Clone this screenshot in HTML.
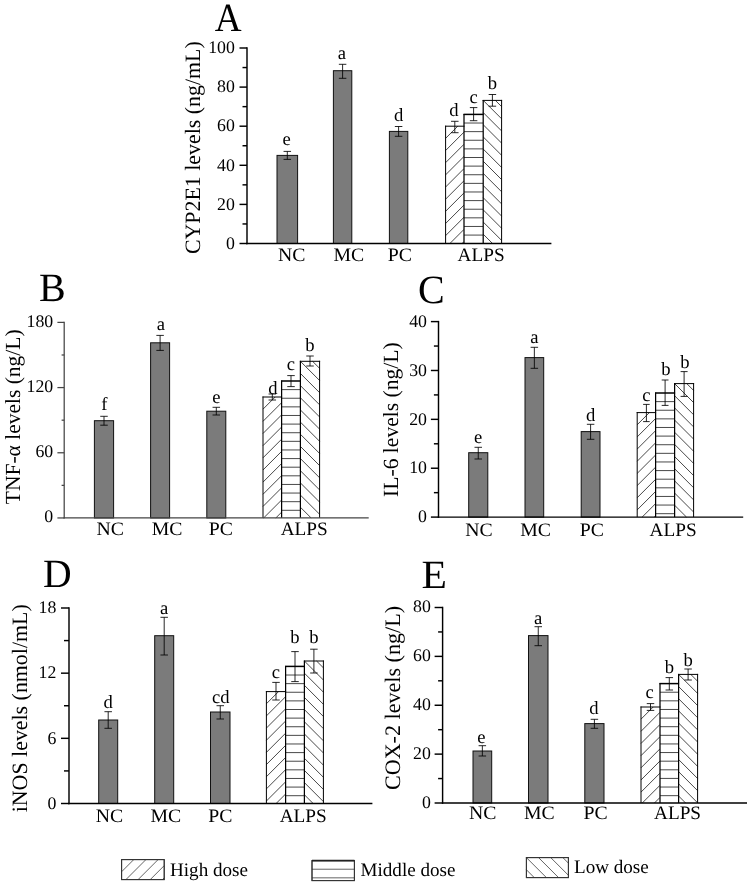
<!DOCTYPE html>
<html lang="en">
<head>
<meta charset="utf-8">
<title>Figure</title>
<style>
html,body{margin:0;padding:0;background:#fff;}
body{width:750px;height:884px;overflow:hidden;font-family:"Liberation Serif",serif;}
svg{display:block;will-change:transform;filter:grayscale(1);}
</style>
</head>
<body>
<svg width="750" height="884" viewBox="0 0 750 884" font-family='"Liberation Serif", serif' fill="#000" shape-rendering="geometricPrecision" text-rendering="geometricPrecision">
<rect x="0" y="0" width="750" height="884" fill="#fff" stroke="none"/>
<g>
<rect x="277" y="155.4" width="20.6" height="88.1" fill="#7b7b7b" stroke="#111" stroke-width="1.0"/>
<rect x="333.4" y="70.7" width="18.4" height="172.8" fill="#7b7b7b" stroke="#111" stroke-width="1.0"/>
<rect x="389.4" y="131.4" width="18.4" height="112.1" fill="#7b7b7b" stroke="#111" stroke-width="1.0"/>
<rect x="445.6" y="126.2" width="18.4" height="117.3" fill="#fff" stroke="none"/>
<line x1="445.6" y1="138.36" x2="457.76" y2="126.2" stroke="#000" stroke-width="0.72"/>
<line x1="445.6" y1="150.52" x2="464" y2="132.12" stroke="#000" stroke-width="0.72"/>
<line x1="445.6" y1="162.68" x2="464" y2="144.28" stroke="#000" stroke-width="0.72"/>
<line x1="445.6" y1="174.84" x2="464" y2="156.44" stroke="#000" stroke-width="0.72"/>
<line x1="445.6" y1="187" x2="464" y2="168.6" stroke="#000" stroke-width="0.72"/>
<line x1="445.6" y1="199.16" x2="464" y2="180.76" stroke="#000" stroke-width="0.72"/>
<line x1="445.6" y1="211.32" x2="464" y2="192.92" stroke="#000" stroke-width="0.72"/>
<line x1="445.6" y1="223.48" x2="464" y2="205.08" stroke="#000" stroke-width="0.72"/>
<line x1="445.6" y1="235.64" x2="464" y2="217.24" stroke="#000" stroke-width="0.72"/>
<line x1="449.9" y1="243.5" x2="464" y2="229.4" stroke="#000" stroke-width="0.72"/>
<line x1="462.06" y1="243.5" x2="464" y2="241.56" stroke="#000" stroke-width="0.72"/>
<rect x="464" y="114.4" width="19.2" height="129.1" fill="#fff" stroke="none"/>
<line x1="464" y1="123.02" x2="483.2" y2="123.02" stroke="#000" stroke-width="0.72"/>
<line x1="464" y1="131.64" x2="483.2" y2="131.64" stroke="#000" stroke-width="0.72"/>
<line x1="464" y1="140.26" x2="483.2" y2="140.26" stroke="#000" stroke-width="0.72"/>
<line x1="464" y1="148.88" x2="483.2" y2="148.88" stroke="#000" stroke-width="0.72"/>
<line x1="464" y1="157.5" x2="483.2" y2="157.5" stroke="#000" stroke-width="0.72"/>
<line x1="464" y1="166.12" x2="483.2" y2="166.12" stroke="#000" stroke-width="0.72"/>
<line x1="464" y1="174.74" x2="483.2" y2="174.74" stroke="#000" stroke-width="0.72"/>
<line x1="464" y1="183.36" x2="483.2" y2="183.36" stroke="#000" stroke-width="0.72"/>
<line x1="464" y1="191.98" x2="483.2" y2="191.98" stroke="#000" stroke-width="0.72"/>
<line x1="464" y1="200.6" x2="483.2" y2="200.6" stroke="#000" stroke-width="0.72"/>
<line x1="464" y1="209.22" x2="483.2" y2="209.22" stroke="#000" stroke-width="0.72"/>
<line x1="464" y1="217.84" x2="483.2" y2="217.84" stroke="#000" stroke-width="0.72"/>
<line x1="464" y1="226.46" x2="483.2" y2="226.46" stroke="#000" stroke-width="0.72"/>
<line x1="464" y1="235.08" x2="483.2" y2="235.08" stroke="#000" stroke-width="0.72"/>
<rect x="483.2" y="100.4" width="18.4" height="143.1" fill="#fff" stroke="none"/>
<line x1="495.36" y1="100.4" x2="501.6" y2="106.64" stroke="#000" stroke-width="0.72"/>
<line x1="483.2" y1="100.4" x2="501.6" y2="118.8" stroke="#000" stroke-width="0.72"/>
<line x1="483.2" y1="112.56" x2="501.6" y2="130.96" stroke="#000" stroke-width="0.72"/>
<line x1="483.2" y1="124.72" x2="501.6" y2="143.12" stroke="#000" stroke-width="0.72"/>
<line x1="483.2" y1="136.88" x2="501.6" y2="155.28" stroke="#000" stroke-width="0.72"/>
<line x1="483.2" y1="149.04" x2="501.6" y2="167.44" stroke="#000" stroke-width="0.72"/>
<line x1="483.2" y1="161.2" x2="501.6" y2="179.6" stroke="#000" stroke-width="0.72"/>
<line x1="483.2" y1="173.36" x2="501.6" y2="191.76" stroke="#000" stroke-width="0.72"/>
<line x1="483.2" y1="185.52" x2="501.6" y2="203.92" stroke="#000" stroke-width="0.72"/>
<line x1="483.2" y1="197.68" x2="501.6" y2="216.08" stroke="#000" stroke-width="0.72"/>
<line x1="483.2" y1="209.84" x2="501.6" y2="228.24" stroke="#000" stroke-width="0.72"/>
<line x1="483.2" y1="222" x2="501.6" y2="240.4" stroke="#000" stroke-width="0.72"/>
<line x1="483.2" y1="234.16" x2="492.54" y2="243.5" stroke="#000" stroke-width="0.72"/>
<line x1="445.6" y1="125.7" x2="445.6" y2="243.5" stroke="#000" stroke-width="1.0"/>
<line x1="445.1" y1="126.2" x2="464.5" y2="126.2" stroke="#000" stroke-width="1.0"/>
<line x1="464" y1="113.9" x2="464" y2="243.5" stroke="#000" stroke-width="1.25"/>
<line x1="463.5" y1="114.4" x2="483.7" y2="114.4" stroke="#000" stroke-width="1.5"/>
<line x1="483.2" y1="99.9" x2="483.2" y2="243.5" stroke="#000" stroke-width="1.25"/>
<line x1="482.7" y1="100.4" x2="502.1" y2="100.4" stroke="#000" stroke-width="1.0"/>
<line x1="501.6" y1="99.9" x2="501.6" y2="243.5" stroke="#000" stroke-width="1.0"/>
<line x1="287.3" y1="151.4" x2="287.3" y2="159.4" stroke="#000" stroke-width="0.85"/>
<line x1="283.55" y1="151.4" x2="291.05" y2="151.4" stroke="#000" stroke-width="0.85"/>
<line x1="283.55" y1="159.4" x2="291.05" y2="159.4" stroke="#000" stroke-width="0.85"/>
<text x="286.6" y="144.6" font-size="18.6" text-anchor="middle">e</text>
<line x1="342.6" y1="64.3" x2="342.6" y2="78.3" stroke="#000" stroke-width="0.85"/>
<line x1="338.85" y1="64.3" x2="346.35" y2="64.3" stroke="#000" stroke-width="0.85"/>
<line x1="338.85" y1="78.3" x2="346.35" y2="78.3" stroke="#000" stroke-width="0.85"/>
<text x="341.8" y="58.6" font-size="18.6" text-anchor="middle">a</text>
<line x1="398.6" y1="126.5" x2="398.6" y2="136.3" stroke="#000" stroke-width="0.85"/>
<line x1="394.85" y1="126.5" x2="402.35" y2="126.5" stroke="#000" stroke-width="0.85"/>
<line x1="394.85" y1="136.3" x2="402.35" y2="136.3" stroke="#000" stroke-width="0.85"/>
<text x="398.6" y="120.5" font-size="18.6" text-anchor="middle">d</text>
<line x1="454.8" y1="121.3" x2="454.8" y2="132.7" stroke="#000" stroke-width="0.85"/>
<line x1="451.05" y1="121.3" x2="458.55" y2="121.3" stroke="#000" stroke-width="0.85"/>
<line x1="451.05" y1="132.7" x2="458.55" y2="132.7" stroke="#000" stroke-width="0.85"/>
<text x="454" y="116" font-size="18.6" text-anchor="middle">d</text>
<line x1="473.6" y1="107.6" x2="473.6" y2="120.7" stroke="#000" stroke-width="0.85"/>
<line x1="469.85" y1="107.6" x2="477.35" y2="107.6" stroke="#000" stroke-width="0.85"/>
<line x1="469.85" y1="120.7" x2="477.35" y2="120.7" stroke="#000" stroke-width="0.85"/>
<text x="473.6" y="103" font-size="18.6" text-anchor="middle">c</text>
<line x1="492.4" y1="94.5" x2="492.4" y2="106.2" stroke="#000" stroke-width="0.85"/>
<line x1="488.65" y1="94.5" x2="496.15" y2="94.5" stroke="#000" stroke-width="0.85"/>
<line x1="488.65" y1="106.2" x2="496.15" y2="106.2" stroke="#000" stroke-width="0.85"/>
<text x="492.4" y="89" font-size="18.6" text-anchor="middle">b</text>
<line x1="247" y1="47.27" x2="247" y2="244.22" stroke="#000" stroke-width="1.45"/>
<line x1="246.28" y1="243.5" x2="551.4" y2="243.5" stroke="#000" stroke-width="1.45"/>
<line x1="239.5" y1="243.5" x2="247" y2="243.5" stroke="#000" stroke-width="1.45"/>
<text x="234.9" y="248.7" font-size="17.8" text-anchor="end">0</text>
<line x1="239.5" y1="204.4" x2="247" y2="204.4" stroke="#000" stroke-width="1.45"/>
<text x="234.9" y="209.6" font-size="17.8" text-anchor="end">20</text>
<line x1="239.5" y1="165.3" x2="247" y2="165.3" stroke="#000" stroke-width="1.45"/>
<text x="234.9" y="170.5" font-size="17.8" text-anchor="end">40</text>
<line x1="239.5" y1="126.2" x2="247" y2="126.2" stroke="#000" stroke-width="1.45"/>
<text x="234.9" y="131.4" font-size="17.8" text-anchor="end">60</text>
<line x1="239.5" y1="87.1" x2="247" y2="87.1" stroke="#000" stroke-width="1.45"/>
<text x="234.9" y="92.3" font-size="17.8" text-anchor="end">80</text>
<line x1="239.5" y1="48" x2="247" y2="48" stroke="#000" stroke-width="1.45"/>
<text x="234.9" y="53.2" font-size="17.8" text-anchor="end">100</text>
<line x1="242.5" y1="223.95" x2="247" y2="223.95" stroke="#000" stroke-width="1.45"/>
<line x1="242.5" y1="184.85" x2="247" y2="184.85" stroke="#000" stroke-width="1.45"/>
<line x1="242.5" y1="145.75" x2="247" y2="145.75" stroke="#000" stroke-width="1.45"/>
<line x1="242.5" y1="106.65" x2="247" y2="106.65" stroke="#000" stroke-width="1.45"/>
<line x1="242.5" y1="67.55" x2="247" y2="67.55" stroke="#000" stroke-width="1.45"/>
<text transform="translate(278,260.6) scale(1.04,1)" font-size="19.0">NC</text>
<text transform="translate(333.4,260.6) scale(1.04,1)" font-size="19.0">MC</text>
<text transform="translate(387.8,260.6) scale(1.04,1)" font-size="19.0">PC</text>
<text transform="translate(457.6,260.6) scale(1.012,1)" font-size="19.0">ALPS</text>
<text transform="translate(200,147.7) rotate(-90)" font-size="21.9" text-anchor="middle">CYP2E1 levels (ng/mL)</text>
<text transform="translate(214.7,31.3) scale(0.93,1)" font-size="40">A</text>
</g>
<g>
<rect x="94.4" y="420.7" width="19.2" height="97.25" fill="#7b7b7b" stroke="#111" stroke-width="1.0"/>
<rect x="150.6" y="342.8" width="19" height="175.15" fill="#7b7b7b" stroke="#111" stroke-width="1.0"/>
<rect x="206.8" y="411.2" width="19" height="106.75" fill="#7b7b7b" stroke="#111" stroke-width="1.0"/>
<rect x="263" y="397" width="18.6" height="120.95" fill="#fff" stroke="none"/>
<line x1="263" y1="409.16" x2="275.16" y2="397" stroke="#000" stroke-width="0.72"/>
<line x1="263" y1="421.32" x2="281.6" y2="402.72" stroke="#000" stroke-width="0.72"/>
<line x1="263" y1="433.48" x2="281.6" y2="414.88" stroke="#000" stroke-width="0.72"/>
<line x1="263" y1="445.64" x2="281.6" y2="427.04" stroke="#000" stroke-width="0.72"/>
<line x1="263" y1="457.8" x2="281.6" y2="439.2" stroke="#000" stroke-width="0.72"/>
<line x1="263" y1="469.96" x2="281.6" y2="451.36" stroke="#000" stroke-width="0.72"/>
<line x1="263" y1="482.12" x2="281.6" y2="463.52" stroke="#000" stroke-width="0.72"/>
<line x1="263" y1="494.28" x2="281.6" y2="475.68" stroke="#000" stroke-width="0.72"/>
<line x1="263" y1="506.44" x2="281.6" y2="487.84" stroke="#000" stroke-width="0.72"/>
<line x1="263.65" y1="517.95" x2="281.6" y2="500" stroke="#000" stroke-width="0.72"/>
<line x1="275.81" y1="517.95" x2="281.6" y2="512.16" stroke="#000" stroke-width="0.72"/>
<rect x="281.6" y="381" width="18.8" height="136.95" fill="#fff" stroke="none"/>
<line x1="281.6" y1="389.62" x2="300.4" y2="389.62" stroke="#000" stroke-width="0.72"/>
<line x1="281.6" y1="398.24" x2="300.4" y2="398.24" stroke="#000" stroke-width="0.72"/>
<line x1="281.6" y1="406.86" x2="300.4" y2="406.86" stroke="#000" stroke-width="0.72"/>
<line x1="281.6" y1="415.48" x2="300.4" y2="415.48" stroke="#000" stroke-width="0.72"/>
<line x1="281.6" y1="424.1" x2="300.4" y2="424.1" stroke="#000" stroke-width="0.72"/>
<line x1="281.6" y1="432.72" x2="300.4" y2="432.72" stroke="#000" stroke-width="0.72"/>
<line x1="281.6" y1="441.34" x2="300.4" y2="441.34" stroke="#000" stroke-width="0.72"/>
<line x1="281.6" y1="449.96" x2="300.4" y2="449.96" stroke="#000" stroke-width="0.72"/>
<line x1="281.6" y1="458.58" x2="300.4" y2="458.58" stroke="#000" stroke-width="0.72"/>
<line x1="281.6" y1="467.2" x2="300.4" y2="467.2" stroke="#000" stroke-width="0.72"/>
<line x1="281.6" y1="475.82" x2="300.4" y2="475.82" stroke="#000" stroke-width="0.72"/>
<line x1="281.6" y1="484.44" x2="300.4" y2="484.44" stroke="#000" stroke-width="0.72"/>
<line x1="281.6" y1="493.06" x2="300.4" y2="493.06" stroke="#000" stroke-width="0.72"/>
<line x1="281.6" y1="501.68" x2="300.4" y2="501.68" stroke="#000" stroke-width="0.72"/>
<line x1="281.6" y1="510.3" x2="300.4" y2="510.3" stroke="#000" stroke-width="0.72"/>
<rect x="300.4" y="361.3" width="19.2" height="156.65" fill="#fff" stroke="none"/>
<line x1="312.56" y1="361.3" x2="319.6" y2="368.34" stroke="#000" stroke-width="0.72"/>
<line x1="300.4" y1="361.3" x2="319.6" y2="380.5" stroke="#000" stroke-width="0.72"/>
<line x1="300.4" y1="373.46" x2="319.6" y2="392.66" stroke="#000" stroke-width="0.72"/>
<line x1="300.4" y1="385.62" x2="319.6" y2="404.82" stroke="#000" stroke-width="0.72"/>
<line x1="300.4" y1="397.78" x2="319.6" y2="416.98" stroke="#000" stroke-width="0.72"/>
<line x1="300.4" y1="409.94" x2="319.6" y2="429.14" stroke="#000" stroke-width="0.72"/>
<line x1="300.4" y1="422.1" x2="319.6" y2="441.3" stroke="#000" stroke-width="0.72"/>
<line x1="300.4" y1="434.26" x2="319.6" y2="453.46" stroke="#000" stroke-width="0.72"/>
<line x1="300.4" y1="446.42" x2="319.6" y2="465.62" stroke="#000" stroke-width="0.72"/>
<line x1="300.4" y1="458.58" x2="319.6" y2="477.78" stroke="#000" stroke-width="0.72"/>
<line x1="300.4" y1="470.74" x2="319.6" y2="489.94" stroke="#000" stroke-width="0.72"/>
<line x1="300.4" y1="482.9" x2="319.6" y2="502.1" stroke="#000" stroke-width="0.72"/>
<line x1="300.4" y1="495.06" x2="319.6" y2="514.26" stroke="#000" stroke-width="0.72"/>
<line x1="300.4" y1="507.22" x2="311.13" y2="517.95" stroke="#000" stroke-width="0.72"/>
<line x1="263" y1="396.5" x2="263" y2="517.95" stroke="#000" stroke-width="1.0"/>
<line x1="262.5" y1="397" x2="282.1" y2="397" stroke="#000" stroke-width="1.0"/>
<line x1="281.6" y1="380.5" x2="281.6" y2="517.95" stroke="#000" stroke-width="1.25"/>
<line x1="281.1" y1="381" x2="300.9" y2="381" stroke="#000" stroke-width="1.5"/>
<line x1="300.4" y1="360.8" x2="300.4" y2="517.95" stroke="#000" stroke-width="1.25"/>
<line x1="299.9" y1="361.3" x2="320.1" y2="361.3" stroke="#000" stroke-width="1.0"/>
<line x1="319.6" y1="360.8" x2="319.6" y2="517.95" stroke="#000" stroke-width="1.0"/>
<line x1="104" y1="416.3" x2="104" y2="425.2" stroke="#000" stroke-width="0.85"/>
<line x1="100.25" y1="416.3" x2="107.75" y2="416.3" stroke="#000" stroke-width="0.85"/>
<line x1="100.25" y1="425.2" x2="107.75" y2="425.2" stroke="#000" stroke-width="0.85"/>
<text x="104.4" y="409.5" font-size="18.6" text-anchor="middle">f</text>
<line x1="160.1" y1="335.4" x2="160.1" y2="350.4" stroke="#000" stroke-width="0.85"/>
<line x1="156.35" y1="335.4" x2="163.85" y2="335.4" stroke="#000" stroke-width="0.85"/>
<line x1="156.35" y1="350.4" x2="163.85" y2="350.4" stroke="#000" stroke-width="0.85"/>
<text x="160.9" y="329.9" font-size="18.6" text-anchor="middle">a</text>
<line x1="216.3" y1="407.3" x2="216.3" y2="415" stroke="#000" stroke-width="0.85"/>
<line x1="212.55" y1="407.3" x2="220.05" y2="407.3" stroke="#000" stroke-width="0.85"/>
<line x1="212.55" y1="415" x2="220.05" y2="415" stroke="#000" stroke-width="0.85"/>
<text x="216.3" y="402.5" font-size="18.6" text-anchor="middle">e</text>
<line x1="272.3" y1="394" x2="272.3" y2="400" stroke="#000" stroke-width="0.85"/>
<line x1="268.55" y1="394" x2="276.05" y2="394" stroke="#000" stroke-width="0.85"/>
<line x1="268.55" y1="400" x2="276.05" y2="400" stroke="#000" stroke-width="0.85"/>
<text x="272.8" y="393.6" font-size="18.6" text-anchor="middle">d</text>
<line x1="291" y1="375.6" x2="291" y2="386.6" stroke="#000" stroke-width="0.85"/>
<line x1="287.25" y1="375.6" x2="294.75" y2="375.6" stroke="#000" stroke-width="0.85"/>
<line x1="287.25" y1="386.6" x2="294.75" y2="386.6" stroke="#000" stroke-width="0.85"/>
<text x="291" y="370.2" font-size="18.6" text-anchor="middle">c</text>
<line x1="310" y1="356" x2="310" y2="366" stroke="#000" stroke-width="0.85"/>
<line x1="306.25" y1="356" x2="313.75" y2="356" stroke="#000" stroke-width="0.85"/>
<line x1="306.25" y1="366" x2="313.75" y2="366" stroke="#000" stroke-width="0.85"/>
<text x="310" y="350.5" font-size="18.6" text-anchor="middle">b</text>
<line x1="64.2" y1="321.77" x2="64.2" y2="518.58" stroke="#444" stroke-width="1.25"/>
<line x1="63.58" y1="517.95" x2="368.7" y2="517.95" stroke="#444" stroke-width="1.25"/>
<line x1="57.4" y1="517.95" x2="64.2" y2="517.95" stroke="#444" stroke-width="1.25"/>
<text x="53.2" y="522.45" font-size="17.8" text-anchor="end">0</text>
<line x1="57.4" y1="452.77" x2="64.2" y2="452.77" stroke="#444" stroke-width="1.25"/>
<text x="53.2" y="457.27" font-size="17.8" text-anchor="end">60</text>
<line x1="57.4" y1="387.58" x2="64.2" y2="387.58" stroke="#444" stroke-width="1.25"/>
<text x="53.2" y="392.08" font-size="17.8" text-anchor="end">120</text>
<line x1="57.4" y1="322.4" x2="64.2" y2="322.4" stroke="#444" stroke-width="1.25"/>
<text x="53.2" y="326.9" font-size="17.8" text-anchor="end">180</text>
<line x1="61.6" y1="485.36" x2="64.2" y2="485.36" stroke="#444" stroke-width="1.25"/>
<line x1="61.6" y1="420.18" x2="64.2" y2="420.18" stroke="#444" stroke-width="1.25"/>
<line x1="61.6" y1="354.99" x2="64.2" y2="354.99" stroke="#444" stroke-width="1.25"/>
<text transform="translate(96.6,534.9) scale(1.04,1)" font-size="19.0">NC</text>
<text transform="translate(151.8,534.9) scale(1.04,1)" font-size="19.0">MC</text>
<text transform="translate(208.7,534.9) scale(1.04,1)" font-size="19.0">PC</text>
<text transform="translate(280.7,534.9) scale(1.012,1)" font-size="19.0">ALPS</text>
<text transform="translate(20.4,416.8) rotate(-90)" font-size="21.5" text-anchor="middle">TNF-α levels (ng/L)</text>
<text transform="translate(39.1,301) scale(1.0,1)" font-size="40">B</text>
</g>
<g>
<rect x="468.7" y="452.7" width="19.1" height="64.4" fill="#7b7b7b" stroke="#111" stroke-width="1.0"/>
<rect x="525" y="357.6" width="18.7" height="159.5" fill="#7b7b7b" stroke="#111" stroke-width="1.0"/>
<rect x="581.2" y="431.6" width="18.8" height="85.5" fill="#7b7b7b" stroke="#111" stroke-width="1.0"/>
<rect x="637.2" y="412.6" width="18.4" height="104.5" fill="#fff" stroke="none"/>
<line x1="637.2" y1="424.76" x2="649.36" y2="412.6" stroke="#000" stroke-width="0.72"/>
<line x1="637.2" y1="436.92" x2="655.6" y2="418.52" stroke="#000" stroke-width="0.72"/>
<line x1="637.2" y1="449.08" x2="655.6" y2="430.68" stroke="#000" stroke-width="0.72"/>
<line x1="637.2" y1="461.24" x2="655.6" y2="442.84" stroke="#000" stroke-width="0.72"/>
<line x1="637.2" y1="473.4" x2="655.6" y2="455" stroke="#000" stroke-width="0.72"/>
<line x1="637.2" y1="485.56" x2="655.6" y2="467.16" stroke="#000" stroke-width="0.72"/>
<line x1="637.2" y1="497.72" x2="655.6" y2="479.32" stroke="#000" stroke-width="0.72"/>
<line x1="637.2" y1="509.88" x2="655.6" y2="491.48" stroke="#000" stroke-width="0.72"/>
<line x1="642.14" y1="517.1" x2="655.6" y2="503.64" stroke="#000" stroke-width="0.72"/>
<line x1="654.3" y1="517.1" x2="655.6" y2="515.8" stroke="#000" stroke-width="0.72"/>
<rect x="655.6" y="393" width="19" height="124.1" fill="#fff" stroke="none"/>
<line x1="655.6" y1="401.62" x2="674.6" y2="401.62" stroke="#000" stroke-width="0.72"/>
<line x1="655.6" y1="410.24" x2="674.6" y2="410.24" stroke="#000" stroke-width="0.72"/>
<line x1="655.6" y1="418.86" x2="674.6" y2="418.86" stroke="#000" stroke-width="0.72"/>
<line x1="655.6" y1="427.48" x2="674.6" y2="427.48" stroke="#000" stroke-width="0.72"/>
<line x1="655.6" y1="436.1" x2="674.6" y2="436.1" stroke="#000" stroke-width="0.72"/>
<line x1="655.6" y1="444.72" x2="674.6" y2="444.72" stroke="#000" stroke-width="0.72"/>
<line x1="655.6" y1="453.34" x2="674.6" y2="453.34" stroke="#000" stroke-width="0.72"/>
<line x1="655.6" y1="461.96" x2="674.6" y2="461.96" stroke="#000" stroke-width="0.72"/>
<line x1="655.6" y1="470.58" x2="674.6" y2="470.58" stroke="#000" stroke-width="0.72"/>
<line x1="655.6" y1="479.2" x2="674.6" y2="479.2" stroke="#000" stroke-width="0.72"/>
<line x1="655.6" y1="487.82" x2="674.6" y2="487.82" stroke="#000" stroke-width="0.72"/>
<line x1="655.6" y1="496.44" x2="674.6" y2="496.44" stroke="#000" stroke-width="0.72"/>
<line x1="655.6" y1="505.06" x2="674.6" y2="505.06" stroke="#000" stroke-width="0.72"/>
<line x1="655.6" y1="513.68" x2="674.6" y2="513.68" stroke="#000" stroke-width="0.72"/>
<rect x="674.6" y="383.6" width="19" height="133.5" fill="#fff" stroke="none"/>
<line x1="686.76" y1="383.6" x2="693.6" y2="390.44" stroke="#000" stroke-width="0.72"/>
<line x1="674.6" y1="383.6" x2="693.6" y2="402.6" stroke="#000" stroke-width="0.72"/>
<line x1="674.6" y1="395.76" x2="693.6" y2="414.76" stroke="#000" stroke-width="0.72"/>
<line x1="674.6" y1="407.92" x2="693.6" y2="426.92" stroke="#000" stroke-width="0.72"/>
<line x1="674.6" y1="420.08" x2="693.6" y2="439.08" stroke="#000" stroke-width="0.72"/>
<line x1="674.6" y1="432.24" x2="693.6" y2="451.24" stroke="#000" stroke-width="0.72"/>
<line x1="674.6" y1="444.4" x2="693.6" y2="463.4" stroke="#000" stroke-width="0.72"/>
<line x1="674.6" y1="456.56" x2="693.6" y2="475.56" stroke="#000" stroke-width="0.72"/>
<line x1="674.6" y1="468.72" x2="693.6" y2="487.72" stroke="#000" stroke-width="0.72"/>
<line x1="674.6" y1="480.88" x2="693.6" y2="499.88" stroke="#000" stroke-width="0.72"/>
<line x1="674.6" y1="493.04" x2="693.6" y2="512.04" stroke="#000" stroke-width="0.72"/>
<line x1="674.6" y1="505.2" x2="686.5" y2="517.1" stroke="#000" stroke-width="0.72"/>
<line x1="637.2" y1="412.1" x2="637.2" y2="517.1" stroke="#000" stroke-width="1.0"/>
<line x1="636.7" y1="412.6" x2="656.1" y2="412.6" stroke="#000" stroke-width="1.0"/>
<line x1="655.6" y1="392.5" x2="655.6" y2="517.1" stroke="#000" stroke-width="1.25"/>
<line x1="655.1" y1="393" x2="675.1" y2="393" stroke="#000" stroke-width="1.5"/>
<line x1="674.6" y1="383.1" x2="674.6" y2="517.1" stroke="#000" stroke-width="1.25"/>
<line x1="674.1" y1="383.6" x2="694.1" y2="383.6" stroke="#000" stroke-width="1.0"/>
<line x1="693.6" y1="383.1" x2="693.6" y2="517.1" stroke="#000" stroke-width="1.0"/>
<line x1="478.25" y1="447.3" x2="478.25" y2="459" stroke="#000" stroke-width="0.85"/>
<line x1="474.5" y1="447.3" x2="482" y2="447.3" stroke="#000" stroke-width="0.85"/>
<line x1="474.5" y1="459" x2="482" y2="459" stroke="#000" stroke-width="0.85"/>
<text x="478.25" y="443" font-size="18.6" text-anchor="middle">e</text>
<line x1="534.35" y1="347.3" x2="534.35" y2="368.3" stroke="#000" stroke-width="0.85"/>
<line x1="530.6" y1="347.3" x2="538.1" y2="347.3" stroke="#000" stroke-width="0.85"/>
<line x1="530.6" y1="368.3" x2="538.1" y2="368.3" stroke="#000" stroke-width="0.85"/>
<text x="534.35" y="343" font-size="18.6" text-anchor="middle">a</text>
<line x1="590.6" y1="424.3" x2="590.6" y2="439.3" stroke="#000" stroke-width="0.85"/>
<line x1="586.85" y1="424.3" x2="594.35" y2="424.3" stroke="#000" stroke-width="0.85"/>
<line x1="586.85" y1="439.3" x2="594.35" y2="439.3" stroke="#000" stroke-width="0.85"/>
<text x="590.6" y="421" font-size="18.6" text-anchor="middle">d</text>
<line x1="646.4" y1="404.4" x2="646.4" y2="421.6" stroke="#000" stroke-width="0.85"/>
<line x1="643.1" y1="404.4" x2="649.7" y2="404.4" stroke="#000" stroke-width="0.85"/>
<line x1="643.1" y1="421.6" x2="649.7" y2="421.6" stroke="#000" stroke-width="0.85"/>
<text x="646.4" y="400.5" font-size="18.6" text-anchor="middle">c</text>
<line x1="665.1" y1="380" x2="665.1" y2="405.4" stroke="#000" stroke-width="0.85"/>
<line x1="661.7" y1="380" x2="668.5" y2="380" stroke="#000" stroke-width="0.85"/>
<line x1="661.7" y1="405.4" x2="668.5" y2="405.4" stroke="#000" stroke-width="0.85"/>
<text x="665.9" y="375.4" font-size="18.6" text-anchor="middle">b</text>
<line x1="684.1" y1="371.6" x2="684.1" y2="396.4" stroke="#000" stroke-width="0.85"/>
<line x1="680.6" y1="371.6" x2="687.6" y2="371.6" stroke="#000" stroke-width="0.85"/>
<line x1="680.6" y1="396.4" x2="687.6" y2="396.4" stroke="#000" stroke-width="0.85"/>
<text x="684.9" y="368" font-size="18.6" text-anchor="middle">b</text>
<line x1="438.5" y1="320.88" x2="438.5" y2="517.83" stroke="#000" stroke-width="1.45"/>
<line x1="437.77" y1="517.1" x2="743.2" y2="517.1" stroke="#000" stroke-width="1.45"/>
<line x1="430.9" y1="517.1" x2="438.5" y2="517.1" stroke="#000" stroke-width="1.45"/>
<text x="427" y="522.3" font-size="17.8" text-anchor="end">0</text>
<line x1="430.9" y1="468.23" x2="438.5" y2="468.23" stroke="#000" stroke-width="1.45"/>
<text x="427" y="473.43" font-size="17.8" text-anchor="end">10</text>
<line x1="430.9" y1="419.35" x2="438.5" y2="419.35" stroke="#000" stroke-width="1.45"/>
<text x="427" y="424.55" font-size="17.8" text-anchor="end">20</text>
<line x1="430.9" y1="370.48" x2="438.5" y2="370.48" stroke="#000" stroke-width="1.45"/>
<text x="427" y="375.68" font-size="17.8" text-anchor="end">30</text>
<line x1="430.9" y1="321.6" x2="438.5" y2="321.6" stroke="#000" stroke-width="1.45"/>
<text x="427" y="326.8" font-size="17.8" text-anchor="end">40</text>
<line x1="433.9" y1="492.66" x2="438.5" y2="492.66" stroke="#000" stroke-width="1.45"/>
<line x1="433.9" y1="443.79" x2="438.5" y2="443.79" stroke="#000" stroke-width="1.45"/>
<line x1="433.9" y1="394.91" x2="438.5" y2="394.91" stroke="#000" stroke-width="1.45"/>
<line x1="433.9" y1="346.04" x2="438.5" y2="346.04" stroke="#000" stroke-width="1.45"/>
<text transform="translate(465.3,536.4) scale(1.04,1)" font-size="19.0">NC</text>
<text transform="translate(520.3,536.4) scale(1.04,1)" font-size="19.0">MC</text>
<text transform="translate(579.8,536.4) scale(1.04,1)" font-size="19.0">PC</text>
<text transform="translate(649.6,536.4) scale(1.012,1)" font-size="19.0">ALPS</text>
<text transform="translate(397.5,419.6) rotate(-90)" font-size="21.6" text-anchor="middle">IL-6 levels (ng/L)</text>
<text transform="translate(418,302.6) scale(1.0,1)" font-size="40">C</text>
</g>
<g>
<rect x="98.7" y="720" width="19" height="83.5" fill="#7b7b7b" stroke="#111" stroke-width="1.0"/>
<rect x="154.7" y="635.7" width="19" height="167.8" fill="#7b7b7b" stroke="#111" stroke-width="1.0"/>
<rect x="210.5" y="712" width="19.5" height="91.5" fill="#7b7b7b" stroke="#111" stroke-width="1.0"/>
<rect x="266.4" y="691.6" width="19.2" height="111.9" fill="#fff" stroke="none"/>
<line x1="266.4" y1="703.76" x2="278.56" y2="691.6" stroke="#000" stroke-width="0.72"/>
<line x1="266.4" y1="715.92" x2="285.6" y2="696.72" stroke="#000" stroke-width="0.72"/>
<line x1="266.4" y1="728.08" x2="285.6" y2="708.88" stroke="#000" stroke-width="0.72"/>
<line x1="266.4" y1="740.24" x2="285.6" y2="721.04" stroke="#000" stroke-width="0.72"/>
<line x1="266.4" y1="752.4" x2="285.6" y2="733.2" stroke="#000" stroke-width="0.72"/>
<line x1="266.4" y1="764.56" x2="285.6" y2="745.36" stroke="#000" stroke-width="0.72"/>
<line x1="266.4" y1="776.72" x2="285.6" y2="757.52" stroke="#000" stroke-width="0.72"/>
<line x1="266.4" y1="788.88" x2="285.6" y2="769.68" stroke="#000" stroke-width="0.72"/>
<line x1="266.4" y1="801.04" x2="285.6" y2="781.84" stroke="#000" stroke-width="0.72"/>
<line x1="276.1" y1="803.5" x2="285.6" y2="794" stroke="#000" stroke-width="0.72"/>
<rect x="285.6" y="666.4" width="18.8" height="137.1" fill="#fff" stroke="none"/>
<line x1="285.6" y1="675.02" x2="304.4" y2="675.02" stroke="#000" stroke-width="0.72"/>
<line x1="285.6" y1="683.64" x2="304.4" y2="683.64" stroke="#000" stroke-width="0.72"/>
<line x1="285.6" y1="692.26" x2="304.4" y2="692.26" stroke="#000" stroke-width="0.72"/>
<line x1="285.6" y1="700.88" x2="304.4" y2="700.88" stroke="#000" stroke-width="0.72"/>
<line x1="285.6" y1="709.5" x2="304.4" y2="709.5" stroke="#000" stroke-width="0.72"/>
<line x1="285.6" y1="718.12" x2="304.4" y2="718.12" stroke="#000" stroke-width="0.72"/>
<line x1="285.6" y1="726.74" x2="304.4" y2="726.74" stroke="#000" stroke-width="0.72"/>
<line x1="285.6" y1="735.36" x2="304.4" y2="735.36" stroke="#000" stroke-width="0.72"/>
<line x1="285.6" y1="743.98" x2="304.4" y2="743.98" stroke="#000" stroke-width="0.72"/>
<line x1="285.6" y1="752.6" x2="304.4" y2="752.6" stroke="#000" stroke-width="0.72"/>
<line x1="285.6" y1="761.22" x2="304.4" y2="761.22" stroke="#000" stroke-width="0.72"/>
<line x1="285.6" y1="769.84" x2="304.4" y2="769.84" stroke="#000" stroke-width="0.72"/>
<line x1="285.6" y1="778.46" x2="304.4" y2="778.46" stroke="#000" stroke-width="0.72"/>
<line x1="285.6" y1="787.08" x2="304.4" y2="787.08" stroke="#000" stroke-width="0.72"/>
<line x1="285.6" y1="795.7" x2="304.4" y2="795.7" stroke="#000" stroke-width="0.72"/>
<rect x="304.4" y="661" width="19" height="142.5" fill="#fff" stroke="none"/>
<line x1="316.56" y1="661" x2="323.4" y2="667.84" stroke="#000" stroke-width="0.72"/>
<line x1="304.4" y1="661" x2="323.4" y2="680" stroke="#000" stroke-width="0.72"/>
<line x1="304.4" y1="673.16" x2="323.4" y2="692.16" stroke="#000" stroke-width="0.72"/>
<line x1="304.4" y1="685.32" x2="323.4" y2="704.32" stroke="#000" stroke-width="0.72"/>
<line x1="304.4" y1="697.48" x2="323.4" y2="716.48" stroke="#000" stroke-width="0.72"/>
<line x1="304.4" y1="709.64" x2="323.4" y2="728.64" stroke="#000" stroke-width="0.72"/>
<line x1="304.4" y1="721.8" x2="323.4" y2="740.8" stroke="#000" stroke-width="0.72"/>
<line x1="304.4" y1="733.96" x2="323.4" y2="752.96" stroke="#000" stroke-width="0.72"/>
<line x1="304.4" y1="746.12" x2="323.4" y2="765.12" stroke="#000" stroke-width="0.72"/>
<line x1="304.4" y1="758.28" x2="323.4" y2="777.28" stroke="#000" stroke-width="0.72"/>
<line x1="304.4" y1="770.44" x2="323.4" y2="789.44" stroke="#000" stroke-width="0.72"/>
<line x1="304.4" y1="782.6" x2="323.4" y2="801.6" stroke="#000" stroke-width="0.72"/>
<line x1="304.4" y1="794.76" x2="313.14" y2="803.5" stroke="#000" stroke-width="0.72"/>
<line x1="266.4" y1="691.1" x2="266.4" y2="803.5" stroke="#000" stroke-width="1.0"/>
<line x1="265.9" y1="691.6" x2="286.1" y2="691.6" stroke="#000" stroke-width="1.0"/>
<line x1="285.6" y1="665.9" x2="285.6" y2="803.5" stroke="#000" stroke-width="1.25"/>
<line x1="285.1" y1="666.4" x2="304.9" y2="666.4" stroke="#000" stroke-width="1.5"/>
<line x1="304.4" y1="660.5" x2="304.4" y2="803.5" stroke="#000" stroke-width="1.25"/>
<line x1="303.9" y1="661" x2="323.9" y2="661" stroke="#000" stroke-width="1.0"/>
<line x1="323.4" y1="660.5" x2="323.4" y2="803.5" stroke="#000" stroke-width="1.0"/>
<line x1="108.2" y1="711.7" x2="108.2" y2="728.3" stroke="#000" stroke-width="0.85"/>
<line x1="104.45" y1="711.7" x2="111.95" y2="711.7" stroke="#000" stroke-width="0.85"/>
<line x1="104.45" y1="728.3" x2="111.95" y2="728.3" stroke="#000" stroke-width="0.85"/>
<text x="108.2" y="708" font-size="18.6" text-anchor="middle">d</text>
<line x1="164.2" y1="617.3" x2="164.2" y2="655" stroke="#000" stroke-width="0.85"/>
<line x1="160.45" y1="617.3" x2="167.95" y2="617.3" stroke="#000" stroke-width="0.85"/>
<line x1="160.45" y1="655" x2="167.95" y2="655" stroke="#000" stroke-width="0.85"/>
<text x="164.2" y="613.9" font-size="18.6" text-anchor="middle">a</text>
<line x1="220.25" y1="705.7" x2="220.25" y2="719" stroke="#000" stroke-width="0.85"/>
<line x1="216.5" y1="705.7" x2="224" y2="705.7" stroke="#000" stroke-width="0.85"/>
<line x1="216.5" y1="719" x2="224" y2="719" stroke="#000" stroke-width="0.85"/>
<text x="220.7" y="702.5" font-size="18.6" text-anchor="middle">cd</text>
<line x1="276" y1="682.4" x2="276" y2="700" stroke="#000" stroke-width="0.85"/>
<line x1="272.25" y1="682.4" x2="279.75" y2="682.4" stroke="#000" stroke-width="0.85"/>
<line x1="272.25" y1="700" x2="279.75" y2="700" stroke="#000" stroke-width="0.85"/>
<text x="276" y="678" font-size="18.6" text-anchor="middle">c</text>
<line x1="295" y1="651.6" x2="295" y2="681.6" stroke="#000" stroke-width="0.85"/>
<line x1="291.25" y1="651.6" x2="298.75" y2="651.6" stroke="#000" stroke-width="0.85"/>
<line x1="291.25" y1="681.6" x2="298.75" y2="681.6" stroke="#000" stroke-width="0.85"/>
<text x="295" y="642.6" font-size="18.6" text-anchor="middle">b</text>
<line x1="313.9" y1="649.2" x2="313.9" y2="673" stroke="#000" stroke-width="0.85"/>
<line x1="310.15" y1="649.2" x2="317.65" y2="649.2" stroke="#000" stroke-width="0.85"/>
<line x1="310.15" y1="673" x2="317.65" y2="673" stroke="#000" stroke-width="0.85"/>
<text x="313.9" y="643.4" font-size="18.6" text-anchor="middle">b</text>
<line x1="69" y1="607.27" x2="69" y2="804.23" stroke="#000" stroke-width="1.45"/>
<line x1="68.28" y1="803.5" x2="372.4" y2="803.5" stroke="#000" stroke-width="1.45"/>
<line x1="61" y1="803.5" x2="69" y2="803.5" stroke="#000" stroke-width="1.45"/>
<text x="56.4" y="808.7" font-size="17.8" text-anchor="end">0</text>
<line x1="61" y1="738.33" x2="69" y2="738.33" stroke="#000" stroke-width="1.45"/>
<text x="56.4" y="743.53" font-size="17.8" text-anchor="end">6</text>
<line x1="61" y1="673.17" x2="69" y2="673.17" stroke="#000" stroke-width="1.45"/>
<text x="56.4" y="678.37" font-size="17.8" text-anchor="end">12</text>
<line x1="61" y1="608" x2="69" y2="608" stroke="#000" stroke-width="1.45"/>
<text x="56.4" y="613.2" font-size="17.8" text-anchor="end">18</text>
<line x1="64" y1="770.92" x2="69" y2="770.92" stroke="#000" stroke-width="1.45"/>
<line x1="64" y1="705.75" x2="69" y2="705.75" stroke="#000" stroke-width="1.45"/>
<line x1="64" y1="640.58" x2="69" y2="640.58" stroke="#000" stroke-width="1.45"/>
<text transform="translate(95.8,821.9) scale(1.04,1)" font-size="19.0">NC</text>
<text transform="translate(150.5,821.9) scale(1.04,1)" font-size="19.0">MC</text>
<text transform="translate(208.2,821.9) scale(1.04,1)" font-size="19.0">PC</text>
<text transform="translate(279.7,821.9) scale(1.012,1)" font-size="19.0">ALPS</text>
<text transform="translate(27.3,708.3) rotate(-90)" font-size="21.9" text-anchor="middle">iNOS levels (nmol/mL)</text>
<text transform="translate(43.1,586.8) scale(0.99,1)" font-size="40">D</text>
</g>
<g>
<rect x="473" y="751" width="18.7" height="52" fill="#7b7b7b" stroke="#111" stroke-width="1.0"/>
<rect x="528.5" y="635.6" width="19.5" height="167.4" fill="#7b7b7b" stroke="#111" stroke-width="1.0"/>
<rect x="584.8" y="723.6" width="19.2" height="79.4" fill="#7b7b7b" stroke="#111" stroke-width="1.0"/>
<rect x="641" y="707" width="19" height="96" fill="#fff" stroke="none"/>
<line x1="641" y1="719.16" x2="653.16" y2="707" stroke="#000" stroke-width="0.72"/>
<line x1="641" y1="731.32" x2="660" y2="712.32" stroke="#000" stroke-width="0.72"/>
<line x1="641" y1="743.48" x2="660" y2="724.48" stroke="#000" stroke-width="0.72"/>
<line x1="641" y1="755.64" x2="660" y2="736.64" stroke="#000" stroke-width="0.72"/>
<line x1="641" y1="767.8" x2="660" y2="748.8" stroke="#000" stroke-width="0.72"/>
<line x1="641" y1="779.96" x2="660" y2="760.96" stroke="#000" stroke-width="0.72"/>
<line x1="641" y1="792.12" x2="660" y2="773.12" stroke="#000" stroke-width="0.72"/>
<line x1="642.28" y1="803" x2="660" y2="785.28" stroke="#000" stroke-width="0.72"/>
<line x1="654.44" y1="803" x2="660" y2="797.44" stroke="#000" stroke-width="0.72"/>
<rect x="660" y="683.6" width="18.6" height="119.4" fill="#fff" stroke="none"/>
<line x1="660" y1="692.22" x2="678.6" y2="692.22" stroke="#000" stroke-width="0.72"/>
<line x1="660" y1="700.84" x2="678.6" y2="700.84" stroke="#000" stroke-width="0.72"/>
<line x1="660" y1="709.46" x2="678.6" y2="709.46" stroke="#000" stroke-width="0.72"/>
<line x1="660" y1="718.08" x2="678.6" y2="718.08" stroke="#000" stroke-width="0.72"/>
<line x1="660" y1="726.7" x2="678.6" y2="726.7" stroke="#000" stroke-width="0.72"/>
<line x1="660" y1="735.32" x2="678.6" y2="735.32" stroke="#000" stroke-width="0.72"/>
<line x1="660" y1="743.94" x2="678.6" y2="743.94" stroke="#000" stroke-width="0.72"/>
<line x1="660" y1="752.56" x2="678.6" y2="752.56" stroke="#000" stroke-width="0.72"/>
<line x1="660" y1="761.18" x2="678.6" y2="761.18" stroke="#000" stroke-width="0.72"/>
<line x1="660" y1="769.8" x2="678.6" y2="769.8" stroke="#000" stroke-width="0.72"/>
<line x1="660" y1="778.42" x2="678.6" y2="778.42" stroke="#000" stroke-width="0.72"/>
<line x1="660" y1="787.04" x2="678.6" y2="787.04" stroke="#000" stroke-width="0.72"/>
<line x1="660" y1="795.66" x2="678.6" y2="795.66" stroke="#000" stroke-width="0.72"/>
<rect x="678.6" y="674.4" width="19" height="128.6" fill="#fff" stroke="none"/>
<line x1="690.76" y1="674.4" x2="697.6" y2="681.24" stroke="#000" stroke-width="0.72"/>
<line x1="678.6" y1="674.4" x2="697.6" y2="693.4" stroke="#000" stroke-width="0.72"/>
<line x1="678.6" y1="686.56" x2="697.6" y2="705.56" stroke="#000" stroke-width="0.72"/>
<line x1="678.6" y1="698.72" x2="697.6" y2="717.72" stroke="#000" stroke-width="0.72"/>
<line x1="678.6" y1="710.88" x2="697.6" y2="729.88" stroke="#000" stroke-width="0.72"/>
<line x1="678.6" y1="723.04" x2="697.6" y2="742.04" stroke="#000" stroke-width="0.72"/>
<line x1="678.6" y1="735.2" x2="697.6" y2="754.2" stroke="#000" stroke-width="0.72"/>
<line x1="678.6" y1="747.36" x2="697.6" y2="766.36" stroke="#000" stroke-width="0.72"/>
<line x1="678.6" y1="759.52" x2="697.6" y2="778.52" stroke="#000" stroke-width="0.72"/>
<line x1="678.6" y1="771.68" x2="697.6" y2="790.68" stroke="#000" stroke-width="0.72"/>
<line x1="678.6" y1="783.84" x2="697.6" y2="802.84" stroke="#000" stroke-width="0.72"/>
<line x1="678.6" y1="796" x2="685.6" y2="803" stroke="#000" stroke-width="0.72"/>
<line x1="641" y1="706.5" x2="641" y2="803" stroke="#000" stroke-width="1.0"/>
<line x1="640.5" y1="707" x2="660.5" y2="707" stroke="#000" stroke-width="1.0"/>
<line x1="660" y1="683.1" x2="660" y2="803" stroke="#000" stroke-width="1.25"/>
<line x1="659.5" y1="683.6" x2="679.1" y2="683.6" stroke="#000" stroke-width="1.5"/>
<line x1="678.6" y1="673.9" x2="678.6" y2="803" stroke="#000" stroke-width="1.25"/>
<line x1="678.1" y1="674.4" x2="698.1" y2="674.4" stroke="#000" stroke-width="1.0"/>
<line x1="697.6" y1="673.9" x2="697.6" y2="803" stroke="#000" stroke-width="1.0"/>
<line x1="482.35" y1="745.7" x2="482.35" y2="756" stroke="#000" stroke-width="0.85"/>
<line x1="478.6" y1="745.7" x2="486.1" y2="745.7" stroke="#000" stroke-width="0.85"/>
<line x1="478.6" y1="756" x2="486.1" y2="756" stroke="#000" stroke-width="0.85"/>
<text x="481.4" y="742.9" font-size="18.6" text-anchor="middle">e</text>
<line x1="538.25" y1="626.7" x2="538.25" y2="645.7" stroke="#000" stroke-width="0.85"/>
<line x1="534.5" y1="626.7" x2="542" y2="626.7" stroke="#000" stroke-width="0.85"/>
<line x1="534.5" y1="645.7" x2="542" y2="645.7" stroke="#000" stroke-width="0.85"/>
<text x="538.25" y="623.6" font-size="18.6" text-anchor="middle">a</text>
<line x1="594.4" y1="719.3" x2="594.4" y2="728.3" stroke="#000" stroke-width="0.85"/>
<line x1="590.65" y1="719.3" x2="598.15" y2="719.3" stroke="#000" stroke-width="0.85"/>
<line x1="590.65" y1="728.3" x2="598.15" y2="728.3" stroke="#000" stroke-width="0.85"/>
<text x="593.8" y="713.5" font-size="18.6" text-anchor="middle">d</text>
<line x1="650.5" y1="703.6" x2="650.5" y2="710.4" stroke="#000" stroke-width="0.85"/>
<line x1="646.75" y1="703.6" x2="654.25" y2="703.6" stroke="#000" stroke-width="0.85"/>
<line x1="646.75" y1="710.4" x2="654.25" y2="710.4" stroke="#000" stroke-width="0.85"/>
<text x="649.7" y="697.6" font-size="18.6" text-anchor="middle">c</text>
<line x1="669.3" y1="677.6" x2="669.3" y2="690" stroke="#000" stroke-width="0.85"/>
<line x1="665.55" y1="677.6" x2="673.05" y2="677.6" stroke="#000" stroke-width="0.85"/>
<line x1="665.55" y1="690" x2="673.05" y2="690" stroke="#000" stroke-width="0.85"/>
<text x="669.3" y="673" font-size="18.6" text-anchor="middle">b</text>
<line x1="688.1" y1="669" x2="688.1" y2="680" stroke="#000" stroke-width="0.85"/>
<line x1="684.35" y1="669" x2="691.85" y2="669" stroke="#000" stroke-width="0.85"/>
<line x1="684.35" y1="680" x2="691.85" y2="680" stroke="#000" stroke-width="0.85"/>
<text x="688.1" y="666.4" font-size="18.6" text-anchor="middle">b</text>
<line x1="442.6" y1="606.77" x2="442.6" y2="803.73" stroke="#000" stroke-width="1.45"/>
<line x1="441.88" y1="803" x2="747" y2="803" stroke="#000" stroke-width="1.45"/>
<line x1="434.6" y1="803" x2="442.6" y2="803" stroke="#000" stroke-width="1.45"/>
<text x="430.8" y="807.6" font-size="17.8" text-anchor="end">0</text>
<line x1="434.6" y1="754.12" x2="442.6" y2="754.12" stroke="#000" stroke-width="1.45"/>
<text x="430.8" y="758.73" font-size="17.8" text-anchor="end">20</text>
<line x1="434.6" y1="705.25" x2="442.6" y2="705.25" stroke="#000" stroke-width="1.45"/>
<text x="430.8" y="709.85" font-size="17.8" text-anchor="end">40</text>
<line x1="434.6" y1="656.38" x2="442.6" y2="656.38" stroke="#000" stroke-width="1.45"/>
<text x="430.8" y="660.98" font-size="17.8" text-anchor="end">60</text>
<line x1="434.6" y1="607.5" x2="442.6" y2="607.5" stroke="#000" stroke-width="1.45"/>
<text x="430.8" y="612.1" font-size="17.8" text-anchor="end">80</text>
<line x1="438.1" y1="778.56" x2="442.6" y2="778.56" stroke="#000" stroke-width="1.45"/>
<line x1="438.1" y1="729.69" x2="442.6" y2="729.69" stroke="#000" stroke-width="1.45"/>
<line x1="438.1" y1="680.81" x2="442.6" y2="680.81" stroke="#000" stroke-width="1.45"/>
<line x1="438.1" y1="631.94" x2="442.6" y2="631.94" stroke="#000" stroke-width="1.45"/>
<text transform="translate(469,819.3) scale(1.04,1)" font-size="19.0">NC</text>
<text transform="translate(524,819.3) scale(1.04,1)" font-size="19.0">MC</text>
<text transform="translate(583.5,819.3) scale(1.04,1)" font-size="19.0">PC</text>
<text transform="translate(654,819.3) scale(1.012,1)" font-size="19.0">ALPS</text>
<text transform="translate(400,698) rotate(-90)" font-size="22.1" text-anchor="middle">COX-2 levels (ng/L)</text>
<text transform="translate(421.5,588.1) scale(1.04,1)" font-size="40">E</text>
</g>
<g>
<rect x="121.6" y="859.6" width="42.6" height="20" fill="#fff" stroke="#333" stroke-width="1.0"/>
<line x1="121.6" y1="871.76" x2="133.76" y2="859.6" stroke="#222" stroke-width="0.7"/>
<line x1="125.92" y1="879.6" x2="145.92" y2="859.6" stroke="#222" stroke-width="0.7"/>
<line x1="138.08" y1="879.6" x2="158.08" y2="859.6" stroke="#222" stroke-width="0.7"/>
<line x1="150.24" y1="879.6" x2="164.2" y2="865.64" stroke="#222" stroke-width="0.7"/>
<line x1="162.4" y1="879.6" x2="164.2" y2="877.8" stroke="#222" stroke-width="0.7"/>
<rect x="121.6" y="859.6" width="42.6" height="20" fill="none" stroke="#333" stroke-width="1.0"/>
<text x="170" y="876.2" font-size="19.1" text-anchor="start">High dose</text>
<rect x="312" y="860.6" width="42.4" height="20" fill="#fff" stroke="#333" stroke-width="1.0"/>
<line x1="312" y1="869.22" x2="354.4" y2="869.22" stroke="#222" stroke-width="0.7"/>
<line x1="312" y1="877.84" x2="354.4" y2="877.84" stroke="#222" stroke-width="0.7"/>
<rect x="312" y="860.6" width="42.4" height="20" fill="none" stroke="#333" stroke-width="1.0"/>
<line x1="312" y1="860.6" x2="354.4" y2="860.6" stroke="#222" stroke-width="1.6"/>
<text x="360.5" y="876.4" font-size="19.1" text-anchor="start">Middle dose</text>
<rect x="526.4" y="857.6" width="42" height="20" fill="#fff" stroke="#333" stroke-width="1.0"/>
<line x1="562.88" y1="857.6" x2="568.4" y2="863.12" stroke="#222" stroke-width="0.7"/>
<line x1="550.72" y1="857.6" x2="568.4" y2="875.28" stroke="#222" stroke-width="0.7"/>
<line x1="538.56" y1="857.6" x2="558.56" y2="877.6" stroke="#222" stroke-width="0.7"/>
<line x1="526.4" y1="857.6" x2="546.4" y2="877.6" stroke="#222" stroke-width="0.7"/>
<line x1="526.4" y1="869.76" x2="534.24" y2="877.6" stroke="#222" stroke-width="0.7"/>
<rect x="526.4" y="857.6" width="42" height="20" fill="none" stroke="#333" stroke-width="1.0"/>
<text x="574" y="873.4" font-size="19.1" text-anchor="start">Low dose</text>
</g>
</svg>
</body>
</html>
